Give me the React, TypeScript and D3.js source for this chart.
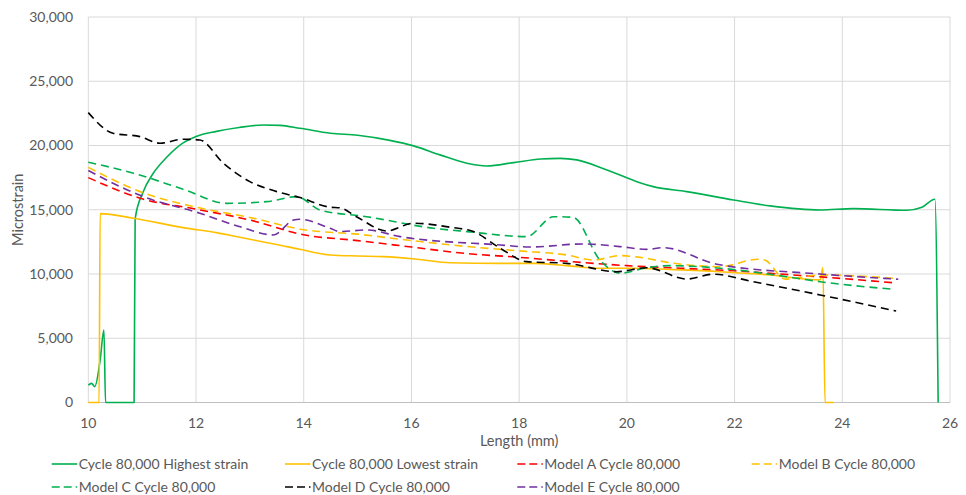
import React from "react";
import * as d3 from "d3";

type Pt = [number, number];

const xTicks = [10, 12, 14, 16, 18, 20, 22, 24, 26];
const yTicks = [0, 5000, 10000, 15000, 20000, 25000, 30000];

const highestStrain: Pt[] = [
  [10.0, 1360], [10.06, 1490], [10.12, 1230], [10.22, 3300], [10.29, 5640], [10.32, 0],
  [10.85, 0], [10.87, 14300], [11.02, 16400], [11.2, 17800], [11.46, 19100], [11.76, 20200],
  [12.0, 20700], [12.38, 21100], [12.8, 21400], [13.25, 21600], [13.56, 21570], [13.93, 21340],
  [14.5, 20950], [15.0, 20800], [15.6, 20400], [16.04, 19970], [16.53, 19270], [17.03, 18620],
  [17.4, 18410], [17.9, 18670], [18.4, 18950], [18.76, 19000], [19.07, 18880], [19.63, 18100],
  [20.24, 17110], [20.49, 16800], [21.11, 16410], [21.98, 15760], [22.66, 15300], [23.59, 14980],
  [24.2, 15090], [25.2, 14960], [25.48, 15190], [25.72, 15820], [25.78, 0],
];

const lowestStrain: Pt[] = [
  [10.0, 0], [10.2, 0], [10.22, 14700], [10.84, 14340], [11.76, 13610], [12.4, 13200],
  [13.0, 12700], [13.5, 12300], [13.93, 11920], [14.49, 11480], [15.0, 11400], [15.48, 11350],
  [16.1, 11150], [16.72, 10880], [17.65, 10830], [18.26, 10830], [18.88, 10650], [19.5, 10450],
  [20.12, 10450], [20.8, 10350], [21.73, 10180], [22.66, 9920], [23.59, 9540], [23.64, 10500],
  [23.68, 0], [23.83, 0],
];

const modelA: Pt[] = [
  [10, 17500], [11, 15850], [12, 15050], [13, 14200], [14, 13050], [15, 12600], [16, 12100],
  [17, 11600], [18, 11300], [19, 10950], [20, 10650], [21, 10450], [22, 10250], [23, 9950],
  [24, 9650], [25, 9300],
];

const modelB: Pt[] = [
  [10, 18300], [11, 16350], [12, 15200], [13, 14400], [14, 13450], [15, 13100], [16, 12600],
  [17, 12150], [18, 11800], [18.88, 11480], [19.38, 11090], [19.87, 11430], [20.24, 11300],
  [20.8, 10880], [21.73, 10570], [22.44, 11150], [22.56, 11090], [22.94, 9600], [23.59, 9920],
  [24.95, 9670],
];

const modelC: Pt[] = [
  [10, 18700], [10.84, 17840], [11.76, 16600], [12.57, 15500], [13.31, 15630], [13.87, 16020],
  [14.3, 14980], [15.17, 14460], [16.41, 13560], [17.03, 13300], [18.14, 12910], [18.64, 14460],
  [19.0, 14410], [19.5, 11090], [19.87, 10060], [20.37, 10490], [20.8, 10650], [21.73, 10450],
  [22.97, 9790], [23.59, 9400], [24.95, 8810],
];

const modelD: Pt[] = [
  [10, 22560], [10.46, 20950], [10.96, 20690], [11.33, 20180], [11.76, 20490], [12.07, 20430],
  [12.51, 18620], [13.0, 17190], [13.5, 16410], [13.93, 15950], [14.49, 15200], [14.67, 15150],
  [14.98, 14460], [15.54, 13350], [16.04, 13950], [16.72, 13640], [17.15, 13300], [17.65, 12000],
  [18.14, 10960], [18.88, 10830], [19.81, 10180], [20.37, 10490], [21.11, 9610], [21.6, 9980],
  [22.35, 9400], [23.59, 8370], [25.0, 7120],
];

const modelE: Pt[] = [
  [10, 18050], [11.02, 16020], [12.07, 14730], [12.8, 13700], [13.44, 13040], [13.81, 14200],
  [13.93, 14260], [14.49, 13560], [14.67, 13300], [15.17, 13430], [15.79, 12910], [17.65, 12260],
  [18.2, 12100], [19.19, 12340], [19.87, 12130], [20.37, 11920], [20.68, 12050], [21.67, 10760],
  [23.59, 10000], [25.04, 9590],
];

const seriesNames = [
  "Cycle 80,000 Highest strain",
  "Cycle 80,000 Lowest strain",
  "Model A Cycle 80,000",
  "Model B Cycle 80,000",
  "Model C Cycle 80,000",
  "Model D Cycle 80,000",
  "Model E Cycle 80,000",
];
const seriesData = [highestStrain, lowestStrain, modelA, modelB, modelC, modelD, modelE];
const seriesColors = ["#00B050", "#FFC000", "#FF0000", "#FFC000", "#00B050", "#000000", "#7030A0"];
const seriesDashed = [false, false, true, true, true, true, true];

const W = 966;
const H = 495;
const left = 88.3;
const right = 950;
const top = 17;
const bottom = 402.5;
const FONT = "Lato, 'Open Sans', sans-serif";
const TXT = "#595959";

export default function App() {
  const x = d3.scaleLinear().domain([10, 26]).range([left, right]);
  const y = d3.scaleLinear().domain([0, 30000]).range([bottom, top]);
  const line = d3
    .line<Pt>()
    .x((d) => x(d[0]))
    .y((d) => y(d[1]))
    .curve(d3.curveMonotoneX);

  const legendPos = [
    [51.7, 464], [285, 464], [517.3, 464], [751.7, 464],
    [51.7, 487], [285, 487], [517.3, 487],
  ];

  return (
    <svg
      width={W}
      height={H}
      style={{ position: "absolute", left: 0, top: 0, background: "#fff" }}
      fontFamily={FONT}
    >
      <rect x={0} y={0} width={W} height={H} fill="#fff" />
      {yTicks.map((t) => (
        <line key={"gy" + t} x1={left} x2={right} y1={y(t)} y2={y(t)} stroke="#d9d9d9" strokeWidth={1} />
      ))}
      {xTicks.map((t) => (
        <line key={"gx" + t} x1={x(t)} x2={x(t)} y1={top} y2={bottom} stroke="#d9d9d9" strokeWidth={1} />
      ))}
      <line x1={left} x2={right} y1={bottom} y2={bottom} stroke="#bfbfbf" strokeWidth={1} />
      {yTicks.map((t) => (
        <text key={"ty" + t} x={73} y={y(t)} dy="0.35em" textAnchor="end" fontSize={14} fill={TXT}>
          {d3.format(",")(t)}
        </text>
      ))}
      {xTicks.map((t) => (
        <text key={"tx" + t} x={x(t)} y={423} dy="0.35em" textAnchor="middle" fontSize={14} fill={TXT}>
          {t}
        </text>
      ))}
      <text x={(left + right) / 2} y={441} dy="0.35em" textAnchor="middle" fontSize={14.5} fill={TXT}>
        Length (mm)
      </text>
      <text
        transform={`translate(18,${(top + bottom) / 2}) rotate(-90)`}
        dy="0.35em"
        textAnchor="middle"
        fontSize={14.5}
        fill={TXT}
      >
        Microstrain
      </text>
      {seriesData.map((d, i) => (
        <path
          key={"s" + i}
          d={line(d) || ""}
          fill="none"
          stroke={seriesColors[i]}
          strokeWidth={1.6}
          strokeDasharray={seriesDashed[i] ? "8,5" : undefined}
          strokeLinejoin="round"
        />
      ))}
      {seriesNames.map((n, i) => {
        const [lx, ly] = legendPos[i];
        return (
          <g key={"l" + i}>
            <line
              x1={lx}
              x2={lx + 25.5}
              y1={ly}
              y2={ly}
              stroke={seriesColors[i]}
              strokeWidth={1.6}
              strokeDasharray={seriesDashed[i] ? "8,4" : undefined}
            />
            <text x={lx + 27} y={ly} dy="0.35em" fontSize={14} fill={TXT}>
              {n}
            </text>
          </g>
        );
      })}
    </svg>
  );
}
